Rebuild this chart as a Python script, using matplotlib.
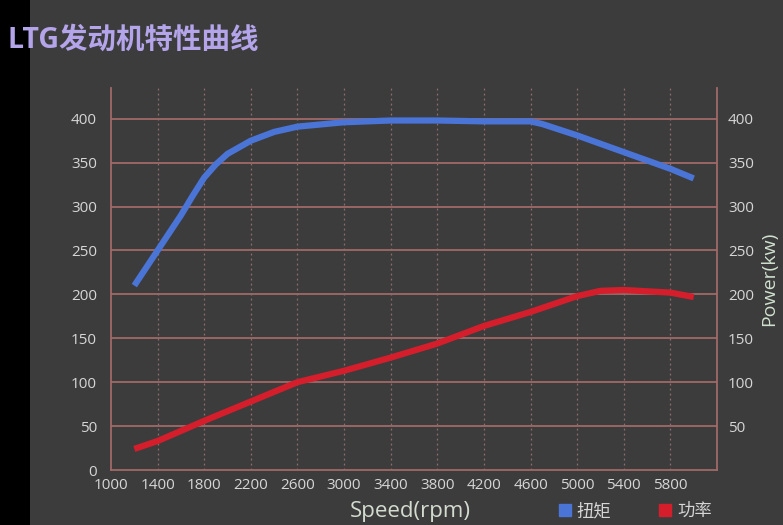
import matplotlib
matplotlib.use('Agg')
import matplotlib.pyplot as plt
from matplotlib.lines import Line2D
from matplotlib.patches import Rectangle

plt.rcParams['font.family'] = ['Open Sans', 'Noto Sans CJK SC', 'DejaVu Sans']

title = 'LTG发动机特性曲线'

# torque (Nm)
torque_rpm = [1200, 1400, 1600, 1700, 1800, 1900, 2000, 2200, 2400, 2600, 3000, 3400, 3800, 4200, 4600, 4700, 5000, 5400, 5800, 6000]
torque = [210, 250, 290, 312, 333, 348, 360, 375, 385, 391, 396, 398, 398, 397, 397, 394, 381, 362, 343, 332]

# power (kw)
power_rpm = [1200, 1400, 1800, 2200, 2600, 3000, 3400, 3800, 4200, 4600, 5000, 5200, 5400, 5800, 6000]
power = [24, 33, 56, 78, 100, 113, 128, 144, 164, 180, 198, 204, 205, 202, 197]

x_ticks = [1000, 1400, 1800, 2200, 2600, 3000, 3400, 3800, 4200, 4600, 5000, 5400, 5800]
left_ticks = [0, 50, 100, 150, 200, 250, 300, 350, 400]
right_ticks = [50, 100, 150, 200, 250, 300, 350, 400]

bg = '#3c3c3c'
grid_col = '#a06a68'
txt_col = '#d6d6d6'

fig = plt.figure(figsize=(7.83, 5.25), dpi=100, facecolor=bg)
# dark strip down the left edge of the photo
fig.patches.append(Rectangle((0, 0), 30 / 783, 1, transform=fig.transFigure,
                             facecolor='black', edgecolor='none', zorder=0))

ax = fig.add_axes([111 / 783, 1 - 470 / 525, (717 - 111) / 783, (470 - 88) / 525])
ax.set_facecolor(bg)
ax.set_xlim(1000, 6200)
ax.set_ylim(0, 435)

for y in left_ticks[1:]:
    ax.axhline(y, color=grid_col, lw=1.3, zorder=1)
for x in x_ticks[1:]:
    ax.axvline(x, color='#8d6e6c', lw=0.9, ls=(0, (1.5, 2.5)), zorder=1)

ax.plot(torque_rpm, torque, color='#4a74d6', lw=4.5, solid_capstyle='butt', zorder=3)
ax.plot(power_rpm, power, color='#d41e2c', lw=4.5, solid_capstyle='butt', zorder=3)

for s in ['left', 'bottom', 'right']:
    ax.spines[s].set_color(grid_col)
    ax.spines[s].set_linewidth(1.3)
ax.spines['top'].set_visible(False)

ax.set_xticks(x_ticks)
ax.set_xticklabels([str(v) for v in x_ticks])
ax.set_yticks(left_ticks)
ax.tick_params(axis='both', length=0, colors=txt_col, labelsize=11)
ax.tick_params(axis='y', pad=10)
ax.tick_params(axis='x', pad=6)

ax2 = ax.twinx()
ax2.set_ylim(0, 435)
ax2.set_yticks(right_ticks)
ax2.tick_params(axis='y', length=0, colors=txt_col, labelsize=11, pad=8)
for s in ax2.spines.values():
    s.set_visible(False)
ax2.set_ylabel('Power(kw)', color='#cfe0cf', fontsize=14, labelpad=4)

fig.text(8 / 783, 1 - 40 / 525, title, color='#b4a4ea', fontsize=20.5,
         fontweight='bold', va='center', ha='left')
fig.text(410 / 783, 1 - 512 / 525, 'Speed(rpm)', color='#d4dcd0', fontsize=16,
         va='center', ha='center')

handles = [Line2D([], [], marker='s', ls='none', color='#4a74d6', markersize=8),
           Line2D([], [], marker='s', ls='none', color='#d41e2c', markersize=8)]
fig.legend(handles, ['扭矩', '功率'], loc='center', bbox_to_anchor=(634 / 783, 1 - 512 / 525),
           ncol=2, frameon=False, labelcolor=txt_col, fontsize=12.5,
           handletextpad=0.2, columnspacing=2.6, handlelength=1.0)

fig.savefig('out.png', dpi=100, facecolor=bg)
